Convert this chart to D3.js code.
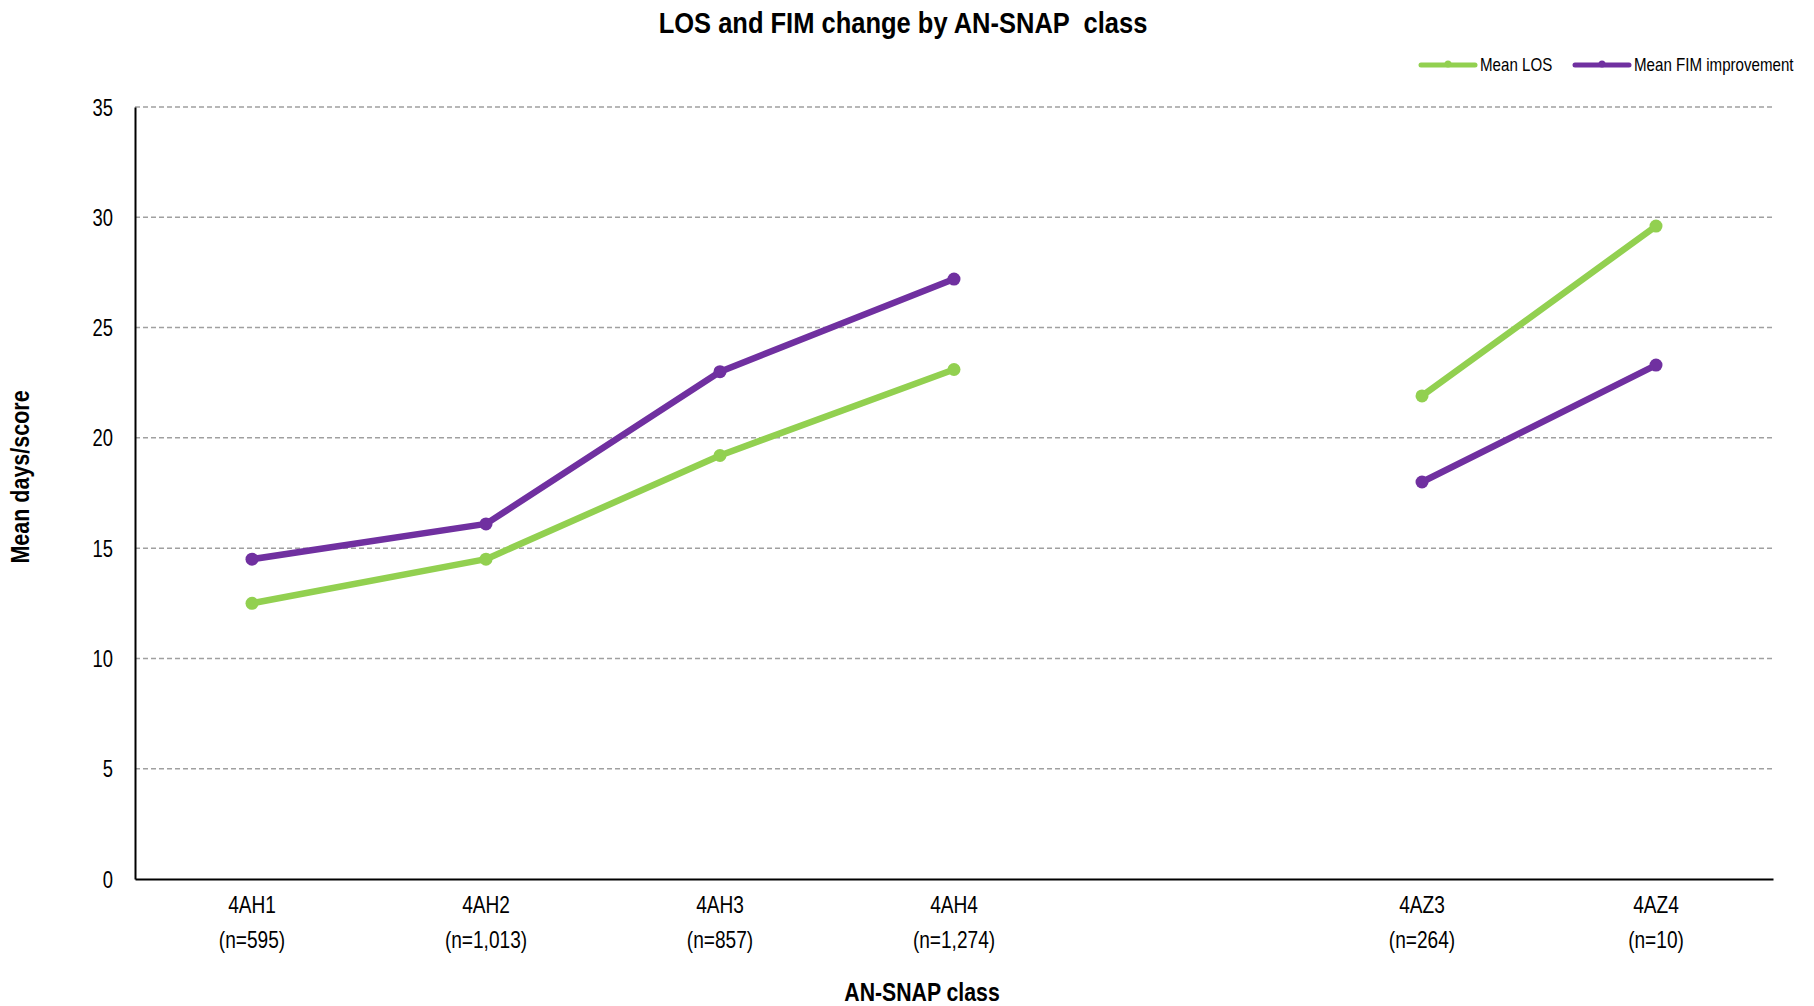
<!DOCTYPE html>
<html>
<head>
<meta charset="utf-8">
<script src="https://cdn.jsdelivr.net/npm/d3@7"></script>
<style>
  html, body { margin: 0; padding: 0; background: #fff; }
  svg { display: block; }
  text { font-family: "Liberation Sans", Arial, sans-serif; }
</style>
</head>
<body>
<svg id="chart" width="1814" height="1006"></svg>
<script>
// ---- data ----
const categories = ["4AH1", "4AH2", "4AH3", "4AH4", "", "4AZ3", "4AZ4"];
const counts = ["(n=595)", "(n=1,013)", "(n=857)", "(n=1,274)", "", "(n=264)", "(n=10)"];
const meanLOS = [12.5, 14.5, 19.2, 23.1, null, 21.9, 29.6];
const meanFIM = [14.5, 16.1, 23.0, 27.2, null, 18.0, 23.3];
const yTicks = [0, 5, 10, 15, 20, 25, 30, 35];
const seriesNames = ["Mean LOS", "Mean FIM improvement"];
const seriesColors = ["#92D050", "#7030A0"];

const svg = d3.select("#chart");
const margin = { left: 135, right: 41, top: 107, bottom: 127 };
const W = 1814, H = 1006;
const keys = categories.map((c, i) => i);

const x = d3.scaleBand().domain(keys).range([margin.left, W - margin.right]);
const y = d3.scaleLinear().domain([0, 35]).range([H - margin.bottom, margin.top]);

// helper: horizontally condensed text
function ctext(parent, tx, ty, sx, txt, size, opts = {}) {
  return parent.append("text")
    .attr("transform", `translate(${tx},${ty}) ${opts.rotate ? "rotate(" + opts.rotate + ")" : ""} scale(${sx},1)`)
    .attr("text-anchor", opts.anchor || "middle")
    .attr("font-size", size)
    .attr("font-weight", opts.bold ? "bold" : "normal")
    .attr("fill", "#000")
    .style("white-space", "pre")
    .text(txt);
}

// gridlines
svg.append("g")
  .selectAll("line")
  .data(yTicks.filter(t => t > 0))
  .join("line")
  .attr("x1", margin.left).attr("x2", W - margin.right)
  .attr("y1", d => y(d)).attr("y2", d => y(d))
  .attr("stroke", "#A0A0A0")
  .attr("stroke-width", 1.5)
  .attr("stroke-dasharray", "5,3");

// y axis
const yAxis = svg.append("g")
  .attr("transform", `translate(${margin.left},0)`)
  .call(d3.axisLeft(y).tickValues(yTicks).tickSize(0).tickFormat(() => ""));
yAxis.select(".domain").attr("stroke", "#000").attr("stroke-width", 2);
yAxis.selectAll(".tick").each(function(d) {
  ctext(d3.select(this), -22, 8, 0.8, String(d), 23, { anchor: "end" });
});

// x axis
const xAxis = svg.append("g")
  .attr("transform", `translate(0,${y(0)})`)
  .call(d3.axisBottom(x).tickSize(0).tickFormat(() => ""));
xAxis.select(".domain").attr("stroke", "#000").attr("stroke-width", 2);
xAxis.selectAll(".tick").each(function(d) {
  const g = d3.select(this);
  ctext(g, 0, 34, 0.83, categories[d], 23);
  ctext(g, 0, 69, 0.83, counts[d], 23);
});

// lines
const series = [meanLOS, meanFIM];
const line = d3.line()
  .defined(d => d.v != null)
  .x(d => x(d.i) + x.bandwidth() / 2)
  .y(d => y(d.v));

series.forEach((vals, si) => {
  const pts = vals.map((v, i) => ({ i, v }));
  svg.append("path")
    .datum(pts)
    .attr("fill", "none")
    .attr("stroke", seriesColors[si])
    .attr("stroke-width", 6.5)
    .attr("stroke-linejoin", "round")
    .attr("d", line);
  svg.append("g")
    .selectAll("circle")
    .data(pts.filter(p => p.v != null))
    .join("circle")
    .attr("cx", d => x(d.i) + x.bandwidth() / 2)
    .attr("cy", d => y(d.v))
    .attr("r", 6.5)
    .attr("fill", seriesColors[si]);
});

// title
ctext(svg, 903, 33, 0.85, "LOS and FIM change by AN-SNAP  class", 30, { bold: true });

// axis titles
ctext(svg, 29, 477, 0.86, "Mean days/score", 25, { bold: true, rotate: -90 });
ctext(svg, 922, 1001, 0.85, "AN-SNAP class", 25, { bold: true });

// legend
const legendPos = [1421, 1575];
seriesNames.forEach((name, si) => {
  const g = svg.append("g").attr("transform", `translate(${legendPos[si]},65)`);
  g.append("line").attr("x1", 0).attr("x2", 54).attr("y1", 0).attr("y2", 0)
    .attr("stroke", seriesColors[si]).attr("stroke-width", 5).attr("stroke-linecap", "round");
  g.append("circle").attr("cx", 27).attr("cy", -1).attr("r", 3.5).attr("fill", seriesColors[si]);
  ctext(g, 59, 6, 0.84, name, 18, { anchor: "start" });
});
</script>
</body>
</html>
